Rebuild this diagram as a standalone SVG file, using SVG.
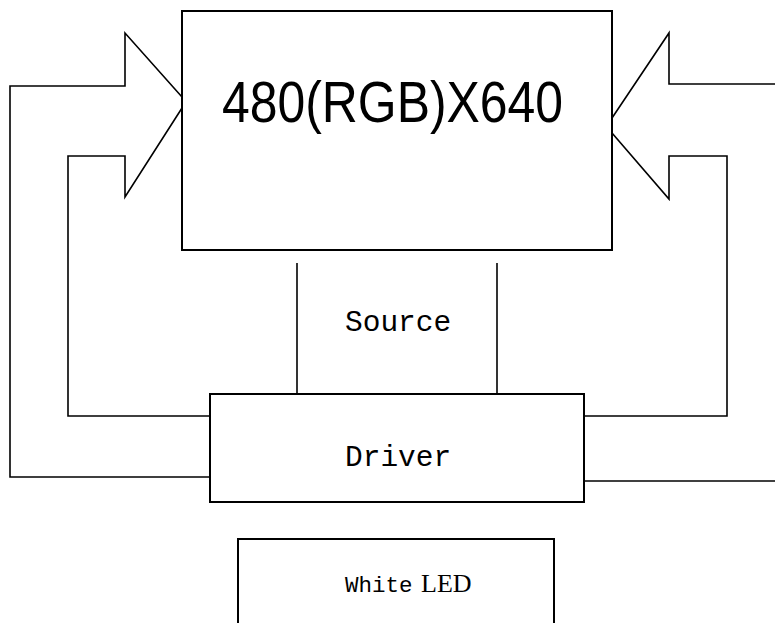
<svg xmlns="http://www.w3.org/2000/svg" width="775" height="623" viewBox="0 0 775 623">
<style>
.box{fill:#fff;stroke:#000;stroke-width:2}
.ln{fill:none;stroke:#000;stroke-width:1.6;stroke-linejoin:miter}
.mono{font-family:"Liberation Mono","DejaVu Sans Mono",monospace;fill:#000}
.sans{font-family:"Liberation Sans",Arial,sans-serif;fill:#000}
.serif{font-family:"Liberation Serif","Times New Roman",serif;fill:#000}
</style>
<rect width="775" height="623" fill="#fff"/>
<g id="connectors">
<polyline class="ln" points="210,477 10,477 10,86 125,86 125,33 182,97"/>
<polyline class="ln" points="182,108 125,197 125,156 68,156 68,416 210,416"/>
<polyline class="ln" points="584,416 727,416 727,156 669,156 669,199 612,133"/>
<polyline class="ln" points="612,118 669,33 669,84 775,84"/>
<line class="ln" x1="584" y1="481" x2="775" y2="481"/>
<line class="ln" x1="297" y1="263" x2="297" y2="394"/>
<line class="ln" x1="497" y1="263" x2="497" y2="394"/>
</g>
<g id="panel">
<rect class="box" x="182" y="11" width="430" height="239"/>
<text class="sans" x="222" y="122" font-size="58" textLength="341" lengthAdjust="spacingAndGlyphs">480(RGB)X640</text>
</g>
<g id="source">
<text class="mono" x="345" y="331" font-size="29.5">Source</text>
</g>
<g id="driver">
<rect class="box" x="210" y="394" width="374" height="108"/>
<text class="mono" x="345" y="466" font-size="29.5">Driver</text>
</g>
<g id="led">
<rect class="box" x="238" y="539" width="316" height="100"/>
<text x="345" y="592"><tspan class="mono" font-size="22.5">White</tspan><tspan class="serif" x="421" font-size="26">LED</tspan></text>
</g>
</svg>
